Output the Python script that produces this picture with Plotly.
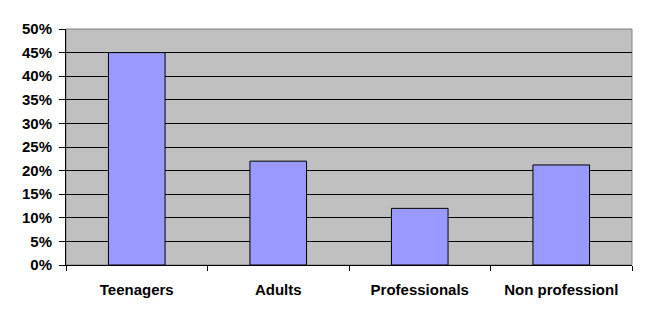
import plotly.graph_objects as go

categories = ["Teenagers", "Adults", "Professionals", "Non professionl"]
values = [45, 22, 12, 21.2]
y_ticks = [0, 5, 10, 15, 20, 25, 30, 35, 40, 45, 50]
y_labels = [f"<b>{v}%</b>" for v in y_ticks]
x_labels = [f"<b>{c}</b>" for c in categories]

fig = go.Figure(go.Bar(
    x=categories, y=values, width=0.4,
    marker=dict(color="#9999FF", line=dict(color="black", width=1)),
))

tf = dict(family="Liberation Sans, Arial, sans-serif", size=15, color="black")
fig.update_layout(
    width=649, height=321,
    margin=dict(l=66, r=17, t=29, b=56),
    paper_bgcolor="white", plot_bgcolor="#C0C0C0",
    showlegend=False,
    font=tf,
    xaxis=dict(
        tickson="boundaries", ticks="outside", ticklen=5, tickcolor="black",
        tickmode="array", tickvals=categories, ticktext=x_labels,
        ticklabelstandoff=11,
        showline=True, linecolor="black", linewidth=1, showgrid=False,
        tickfont=tf,
    ),
    yaxis=dict(
        range=[0, 50], tickmode="array", tickvals=y_ticks, ticktext=y_labels,
        ticks="outside", ticklen=6, tickcolor="black", ticklabelstandoff=4,
        showline=True, linecolor="black", linewidth=1,
        showgrid=True, gridcolor="black", gridwidth=1, zeroline=False,
        tickfont=tf,
    ),
    shapes=[dict(type="rect", xref="paper", yref="paper", x0=0, x1=1, y0=0, y1=1,
                 line=dict(color="#808080", width=1), layer="below")],
)
fig.write_html("out.html")
